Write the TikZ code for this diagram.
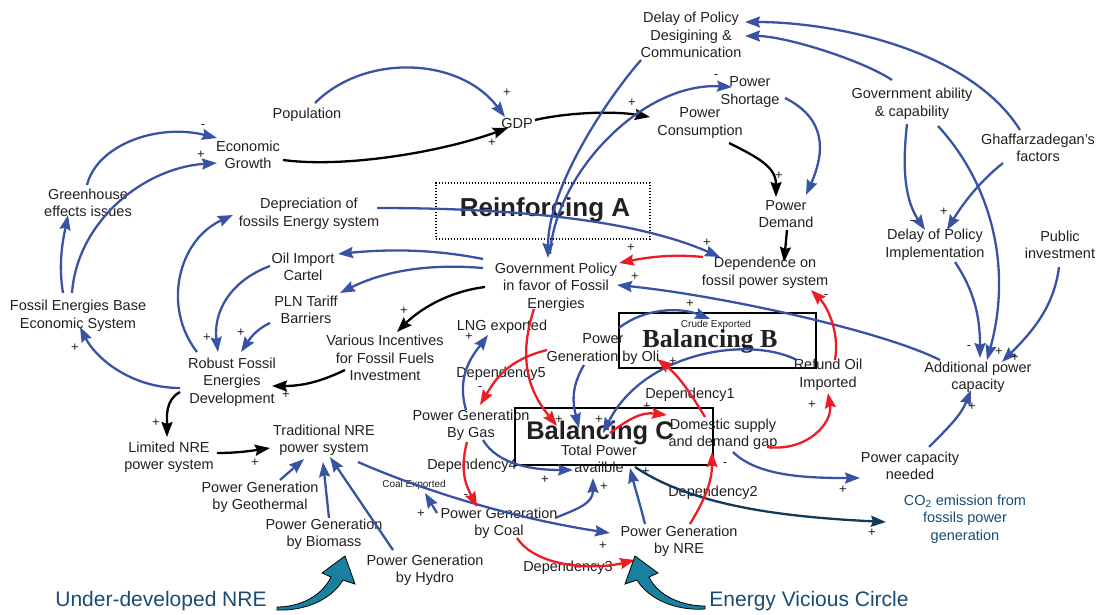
\documentclass[tikz,border=0pt]{standalone}
\usepackage{fontspec}
\setmainfont{Liberation Sans}
\newfontfamily\serifbold{Liberation Serif}
\usetikzlibrary{arrows.meta,calc}

\definecolor{linkblue}{RGB}{57,83,164}
\definecolor{linkred}{RGB}{237,28,36}
\definecolor{linknavy}{RGB}{16,58,92}
\definecolor{txtgray}{RGB}{35,31,32}
\definecolor{notecol}{RGB}{25,75,115}
\definecolor{fatteal}{RGB}{26,128,160}

\begin{document}
\begin{tikzpicture}[x=1pt,y=-1pt,
  >={Stealth[length=15pt,width=11pt,inset=2pt]},
  var/.style={font=\fontsize{14.5}{17.5}\selectfont,text=txtgray,align=center,inner sep=0pt},
  tiny/.style={font=\fontsize{10}{12}\selectfont,text=txtgray,inner sep=0pt},
  sgn/.style={font=\fontsize{13}{13}\selectfont,text=txtgray,inner sep=0pt},
  note/.style={font=\fontsize{21}{24}\selectfont,text=notecol,inner sep=0pt},
  blue link/.style={line width=2.3pt,linkblue,->},
  red link/.style={line width=2.3pt,linkred,->},
  black link/.style={line width=2.3pt,black,->},
  loopbox/.style={draw,line width=2pt,inner sep=0pt},
  looptitle/.style={font=\fontsize{26}{26}\selectfont\bfseries,text=txtgray,inner sep=0pt}]
  \useasboundingbox (0,0) rectangle (1096,615);

  % loop boxes
  \node[loopbox,line width=1.3pt,dash pattern=on 1.2pt off 1.8pt,minimum width=214pt,minimum height=56pt] (boxA) at (543,211) {};
  \node[looptitle] (titleA) at (545,210) {Reinforcing A};
  \node[loopbox,minimum width=197pt,minimum height=55pt] (boxB) at (717,340) {};
  \node[looptitle,font=\fontsize{26}{26}\selectfont\serifbold\bfseries] (titleB) at (710,341) {Balancing B};
  \node[loopbox,minimum width=198pt,minimum height=57pt] (boxC) at (614,436) {};
  \node[looptitle,font=\fontsize{25.5}{26}\selectfont\bfseries] (titleC) at (600,433) {Balancing C};

  % variables
  \node[var] (delay1) at (691,35) {Delay of Policy\\Desigining \&\\Communication};
  \node[var] (shortage) at (750,92) {Power\\Shortage};
  \node[var] (pop) at (307,115) {Population};
  \node[var] (gdp) at (517,124) {GDP};
  \node[var] (cons) at (700,123) {Power\\Consumption};
  \node[var] (govab) at (912,104) {Government ability\\\& capability};
  \node[var] (econ) at (248,155) {Economic\\Growth};
  \node[var] (ghaf) at (1038,148) {Ghaffarzadegan’s\\factors};
  \node[var] (green) at (88,203) {Greenhouse\\effects issues};
  \node[var] (depr) at (309,214) {Depreciation of\\fossils Energy system};
  \node[var] (demand) at (786,214) {Power\\Demand};
  \node[var] (delay2) at (935,245) {Delay of Policy\\Implementation};
  \node[var] (public) at (1060,245) {Public\\investment};
  \node[var] (oil) at (303,267) {Oil Import\\Cartel};
  \node[var] (dep) at (765,273) {Dependence on\\fossil power system};
  \node[var] (gov) at (556,287) {Government Policy\\in favor of Fossil\\Energies};
  \node[var] (pln) at (306,310) {PLN Tariff\\Barriers};
  \node[var] (feb) at (78,316) {Fossil Energies Base\\Economic System};
  \node[var] (lng) at (502,327) {LNG exported};
  \node[tiny] (crude) at (716,325) {Crude Exported};
  \node[var] (oli) at (603,349) {Power\\Generation by Oli};
  \node[var] (refund) at (828,375) {Refund Oil\\Imported};
  \node[var] (addcap) at (978,377) {Additional power\\capacity};
  \node[var] (incent) at (385,358) {Various Incentives\\for Fossil Fuels\\Investment};
  \node[var] (robust) at (232,382) {Robust Fossil\\Energies\\Development};
  \node[var] (gas) at (471,425) {Power Generation\\By Gas};
  \node[var] (domestic) at (723,434) {Domestic supply\\and demand gap};
  \node[var] (total) at (599,459) {Total Power\\availble};
  \node[var] (limited) at (169,457) {Limited NRE\\power system};
  \node[var] (trad) at (324,440) {Traditional NRE\\power system};
  \node[var] (needed) at (910,466) {Power capacity\\needed};
  \node[var,text=notecol] (co2) at (965,519) {CO\textsubscript{2} emission from\\fossils power\\generation};
  \node[var] (geo) at (260,497) {Power Generation\\by Geothermal};
  \node[tiny] (coalexp) at (414,485) {Coal Exported};
  \node[var] (coal) at (499,523) {Power Generation\\by Coal};
  \node[var] (nre) at (679,541) {Power Generation\\by NRE};
  \node[var] (biomass) at (324,534) {Power Generation\\by Biomass};
  \node[var] (hydro) at (425,570) {Power Generation\\by Hydro};
  \node[var] (dy1) at (690,395) {Dependency1};
  \node[var] (dy2) at (713,493) {Dependency2};
  \node[var] (dy3) at (568,568) {Dependency3};
  \node[var] (dy4) at (472,466) {Dependency4};
  \node[var] (dy5) at (501,374) {Dependency5};
  \node[note] (under) at (161,601) {Under-developed NRE};
  \node[note] (vicious) at (809,601) {Energy Vicious Circle};

  % black links
  \draw[black link] ($(econ)+(35,5)$) .. controls +(60,8) and +(-70,25) .. ($(gdp)+(-9,4)$);
  \draw[black link] ($(gdp)+(18,-4)$) .. controls +(35,-8) and +(-35,-6) .. ($(cons)+(-50,-6)$);
  \draw[black link] ($(cons)+(29,20)$) .. controls +(30,15) and +(0,-30) .. ($(demand)+(-10,-17)$);
  \draw[black link] ($(demand)+(1,16)$) -- ($(dep)+(19,-11)$);
  \draw[black link] ($(gov)+(-71,0)$) .. controls +(-40,5) and +(20,-20) .. ($(incent)+(12,-26)$);
  \draw[black link] ($(incent)+(-40,12)$) .. controls +(-25,12) and +(30,0) .. ($(robust)+(40,4)$);
  \draw[black link] ($(robust)+(-52,10)$) .. controls +(-15,8) and +(0,-20) .. ($(limited)+(-2,-20)$);
  \draw[black link] ($(limited)+(48,-4)$) .. controls +(20,0) and +(-20,3) .. ($(trad)+(-54,8)$);

  % blue links
  \draw[blue link] ($(pop)+(8,-12)$) .. controls +(50,-50) and +(-45,-60) .. ($(gdp)+(-12,-7)$);
  \draw[blue link] ($(shortage)+(35,6)$) .. controls +(40,20) and +(20,-45) .. ($(demand)+(20,-19)$);
  \draw[blue link] ($(delay1)+(-50,25)$) .. controls +(-35,40) and +(0,-70) .. ($(gov)+(-8,-29)$);
  \draw[blue link] ($(gov)+(-6,-33)$) .. controls +(5,-80) and +(-90,-5) .. ($(shortage)+(-18,-5)$);
  \draw[blue link] ($(govab)+(-20,-24)$) .. controls +(-30,-20) and +(40,0) .. ($(delay1)+(54,1)$);
  \draw[blue link] ($(ghaf)+(-18,-18)$) .. controls +(-50,-80) and +(90,0) .. ($(delay1)+(54,-13)$);
  \draw[blue link] ($(govab)+(-5,20)$) .. controls +(-5,45) and +(-20,-30) .. ($(delay2)+(-10,-15)$);
  \draw[blue link] ($(ghaf)+(-35,15)$) .. controls +(-25,20) and +(15,-25) .. ($(delay2)+(12,-15)$);
  \draw[blue link] ($(govab)+(26,22)$) .. controls +(55,60) and +(25,-90) .. ($(addcap)+(9,-17)$);
  \draw[blue link] ($(delay2)+(20,17)$) .. controls +(20,30) and +(0,-40) .. ($(addcap)+(2,-19)$);
  \draw[blue link] ($(public)+(-1,22)$) .. controls +(-5,40) and +(30,-30) .. ($(addcap)+(24,-15)$);
  \draw[blue link] ($(needed)+(19,-19)$) .. controls +(20,-20) and +(-10,25) .. ($(addcap)+(-7,13)$);
  \draw[blue link] ($(addcap)+(-38,-17)$) .. controls +(-60,-30) and +(100,10) .. ($(gov)+(61,-2)$);
  \draw[blue link] ($(depr)+(68,-6)$) .. controls +(150,0) and +(-80,-35) .. ($(dep)+(-45,-16)$);
  \draw[blue link] ($(gov)+(-73,-28)$) .. controls +(-50,-10) and +(50,-5) .. ($(oil)+(35,-13)$);
  \draw[blue link] ($(gov)+(-73,-19)$) .. controls +(-60,-5) and +(40,-20) .. ($(pln)+(34,-17)$);
  \draw[blue link] ($(oil)+(-33,-1)$) .. controls +(-40,15) and +(-5,-40) .. ($(robust)+(-14,-30)$);
  \draw[blue link] ($(pln)+(-36,13)$) .. controls +(-15,7) and +(8,-12) .. ($(robust)+(9,-30)$);
  \draw[blue link] ($(robust)+(-35,-30)$) .. controls +(-35,-45) and +(-55,25) .. ($(depr)+(-76,1)$);
  \draw[blue link] ($(robust)+(-52,6)$) .. controls +(-50,0) and +(15,30) .. ($(feb)+(2,11)$);
  \draw[blue link] ($(feb)+(-15,-23)$) .. controls +(-5,-30) and +(-5,25) .. ($(green)+(-20,12)$);
  \draw[blue link] ($(feb)+(-6,-23)$) .. controls +(5,-70) and +(-75,5) .. ($(econ)+(-31,8)$);
  \draw[blue link] ($(green)+(-1,-18)$) .. controls +(10,-40) and +(-60,-15) .. ($(econ)+(-31,-17)$);
  \draw[blue link] ($(geo)+(20,-17)$) -- ($(trad)+(-20,19)$);
  \draw[blue link] ($(biomass)+(5,-16)$) -- ($(trad)+(-1,22)$);
  \draw[blue link] ($(hydro)+(-32,-20)$) -- ($(trad)+(6,17)$);
  \draw[blue link] ($(trad)+(34,22)$) .. controls +(80,35) and +(-80,-12) .. ($(nre)+(-69,-8)$);
  \draw[blue link] ($(coal)+(-62,-10)$) -- ($(coalexp)+(11,8)$);
  \draw[blue link] ($(coal)+(56,-5)$) .. controls +(25,-10) and +(0,25) .. ($(total)+(-6,19)$);
  \draw[blue link] ($(gas)+(12,15)$) .. controls +(15,25) and +(-40,0) .. ($(total)+(-26,11)$);
  \draw[blue link] ($(nre)+(-34,-17)$) .. controls +(-5,-20) and +(5,20) .. ($(total)+(31,9)$);
  \draw[blue link] ($(domestic)+(10,18)$) .. controls +(25,25) and +(-50,0) .. ($(needed)+(-50,12)$);
  \draw[blue link] ($(gas)+(-5,-15)$) .. controls +(-10,-35) and +(-15,20) .. ($(lng)+(-14,8)$);
  \draw[blue link] ($(oli)+(-19,16)$) .. controls +(-15,25) and +(-5,-20) .. ($(total)+(-20,-31)$);
  \draw[blue link] ($(oli)+(16,-21)$) .. controls +(25,-20) and +(-30,-12) .. ($(crude)+(-6,-6)$);
  \draw[blue link] ($(refund)+(-31,-15)$) .. controls +(-50,-25) and +(40,-80) .. ($(total)+(4,-26)$);
  \draw[line width=2.3pt,linknavy,->] ($(total)+(36,8)$) .. controls +(60,40) and +(-100,-5) .. ($(co2)+(-79,3)$);

  % red links
  \draw[red link] ($(dep)+(-62,-16)$) .. controls +(-30,-3) and +(30,-6) .. ($(gov)+(63,-24)$);
  \draw[red link] ($(gas)+(-4,17)$) .. controls +(-8,30) and +(-10,-20) .. ($(coal)+(-22,-16)$);
  \draw[red link] ($(coal)+(18,15)$) .. controls +(20,30) and +(-40,10) .. ($(nre)+(-44,19)$);
  \draw[red link] ($(nre)+(11,-17)$) .. controls +(15,-25) and +(0,30) .. ($(domestic)+(-11,18)$);
  \draw[red link] ($(oli)+(-56,1)$) .. controls +(-40,10) and +(15,-25) .. ($(gas)+(9,-20)$);
  \draw[red link] ($(gov)+(-22,22)$) .. controls +(-20,60) and +(-20,-25) .. ($(total)+(-42,-33)$);
  \draw[red link] ($(domestic)+(-18,-17)$) .. controls +(-15,-25) and +(20,15) .. ($(oli)+(54,10)$);
  \draw[red link] ($(total)+(11,-26)$) .. controls +(20,-15) and +(-25,-3) .. ($(domestic)+(-56,-19)$);
  \draw[red link] ($(domestic)+(44,13)$) .. controls +(40,5) and +(5,30) .. ($(refund)+(0,18)$);
  \draw[red link] ($(refund)+(7,-15)$) .. controls +(5,-30) and +(15,15) .. ($(dep)+(46,17)$);

  % polarity signs
  \node[sgn] (s1) at (507,93) {+};
  \node[sgn] (s2) at (492,143) {+};
  \node[sgn] (s3) at (632,103) {+};
  \node[sgn] (s4) at (716,77) {-};
  \node[sgn] (s5) at (779,176) {+};
  \node[sgn] (s6) at (631,248) {+};
  \node[sgn] (s7) at (707,243) {+};
  \node[sgn] (s8) at (635,277) {+};
  \node[sgn] (s9) at (912,223) {-};
  \node[sgn] (s10) at (944,212) {+};
  \node[sgn] (s11) at (969,348) {-};
  \node[sgn] (s12) at (999,352) {+};
  \node[sgn] (s13) at (1015,358) {+};
  \node[sgn] (s14) at (972,407) {+};
  \node[sgn] (s15) at (826,297) {-};
  \node[sgn] (s16) at (404,311) {+};
  \node[sgn] (s17) at (203,127) {-};
  \node[sgn] (s18) at (201,155) {+};
  \node[sgn] (s19) at (207,338) {+};
  \node[sgn] (s20) at (241,333) {+};
  \node[sgn] (s21) at (286,395) {+};
  \node[sgn] (s22) at (75,348) {+};
  \node[sgn] (s23) at (156,423) {+};
  \node[sgn] (s24) at (255,463) {+};
  \node[sgn] (s25) at (469,337) {+};
  \node[sgn] (s26) at (480,389) {-};
  \node[sgn] (s27) at (690,304) {+};
  \node[sgn] (s28) at (673,362) {+};
  \node[sgn] (s29) at (647,407) {+};
  \node[sgn] (s30) at (559,420) {+};
  \node[sgn] (s31) at (599,420) {+};
  \node[sgn] (s32) at (812,405) {+};
  \node[sgn] (s33) at (725,465) {-};
  \node[sgn] (s34) at (545,480) {+};
  \node[sgn] (s35) at (604,487) {+};
  \node[sgn] (s36) at (646,472) {+};
  \node[sgn] (s37) at (466,497) {-};
  \node[sgn] (s38) at (421,514) {+};
  \node[sgn] (s39) at (603,546) {+};
  \node[sgn] (s40) at (843,490) {+};
  \node[sgn] (s41) at (872,533) {+};

  % fat arrows
  \filldraw[fill=fatteal,draw=black,line width=0.8pt] (277,607) .. controls (300,607) and (322,596) .. (331,577) -- (322,573) -- (345,556) -- (355,584) -- (343,580) .. controls (331,600) and (305,611) .. (277,610) -- cycle;
  \filldraw[fill=fatteal,draw=black,line width=0.8pt] (705,606) .. controls (682,606) and (658,596) .. (649,577) -- (658,573) -- (635,556) -- (625,584) -- (637,580) .. controls (649,600) and (677,611) .. (705,609) -- cycle;
\end{tikzpicture}
\end{document}
